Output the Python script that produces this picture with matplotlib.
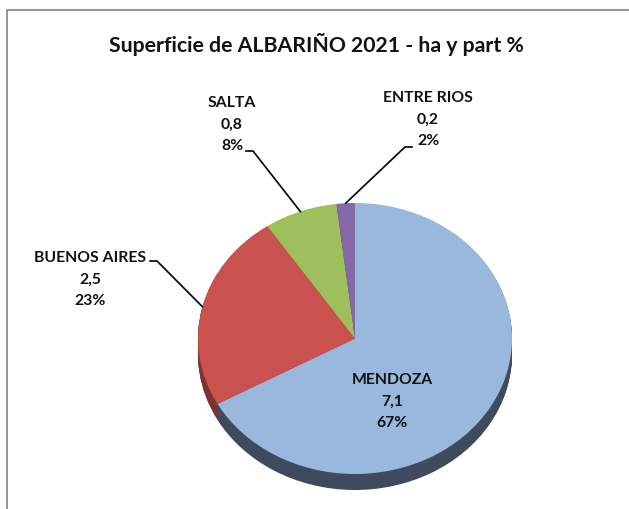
import matplotlib
matplotlib.use("Agg")
import matplotlib.pyplot as plt
import numpy as np

# data
provincias = ["MENDOZA", "BUENOS AIRES", "SALTA", "ENTRE RIOS"]
hectareas = [7.1, 2.5, 0.8, 0.2]
ha_txt = ["7,1", "2,5", "0,8", "0,2"]
pct_txt = ["67%", "23%", "8%", "2%"]
titulo = "Superficie de ALBARIÑO 2021 - ha y part %"

colores = ["#9AB8DE", "#C9524F", "#9DBF5C", "#8568A8"]
oscuros = ["#3E4B5D", "#7E3331", "#5F7637", "#4F3E68"]

plt.rcParams['font.family'] = ['Lato', 'DejaVu Sans']

W, H = 629, 510
fig = plt.figure(figsize=(W / 100, H / 100), dpi=100)

# pie axes: top ellipse spans x 198..512, y 204..475, side 16 px deep
cx0, cx1, top, bot, depth_px = 198, 512, 204, 475, 16
ry = (bot - top) / 2
depth = depth_px / ry
ax = fig.add_axes([cx0 / W, (H - bot - depth_px) / H, (cx1 - cx0) / W,
                   (bot + depth_px - top) / H])

for k in np.linspace(depth, 0.005, 18):
    ax.pie(hectareas, colors=oscuros, startangle=90, counterclock=False,
           center=(0, -k), wedgeprops=dict(linewidth=0))
wedges, _ = ax.pie(hectareas, colors=colores, startangle=90, counterclock=False,
                   wedgeprops=dict(linewidth=0))
ax.set_aspect("auto")
ax.set_xlim(-1, 1)
ax.set_ylim(-1 - depth, 1)
ax.axis("off")

# overlay axes in pixel coordinates, on top of the pie
ov = fig.add_axes([0, 0, 1, 1])
ov.set_zorder(5)
ov.set_xlim(0, W)
ov.set_ylim(H, 0)
ov.axis("off")

# chart frame (cut at right/bottom like the screenshot)
ov.plot([6.5, 6.5, W], [H, 10.5, 10.5], color="#8c8c8c", lw=1.3)

ov.text(316, 44, titulo, ha="center", va="center", fontsize=15.3,
        fontweight="bold", color="#111111")


def to_ov(x, y):
    disp = ax.transData.transform((x, y))
    return ov.transData.inverted().transform(disp)


# labels: (x, y of first line), leader line start point beside the text
label_pos = [(392, 380), (90, 258), (232, 103), (428, 98)]
leader_start = [None, (150, 262), (246, 152), (412, 148)]
line_gap = 21.5

for i, w in enumerate(wedges):
    lx, ly = label_pos[i]
    for j, t in enumerate([provincias[i], ha_txt[i], pct_txt[i]]):
        ov.text(lx, ly + j * line_gap, t, ha="center", va="center",
                fontsize=11.3, fontweight="bold", color="#111111")
    if leader_start[i] is not None:
        ang = np.deg2rad((w.theta1 + w.theta2) / 2)
        px, py = to_ov(np.cos(ang), np.sin(ang))
        sx, sy = leader_start[i]
        if sx < px:
            kx = sx + 7
        else:
            kx = sx - 7
        ov.plot([sx, kx, px], [sy, sy, py], color="black", lw=1.2)

fig.savefig("out.png", dpi=100)
